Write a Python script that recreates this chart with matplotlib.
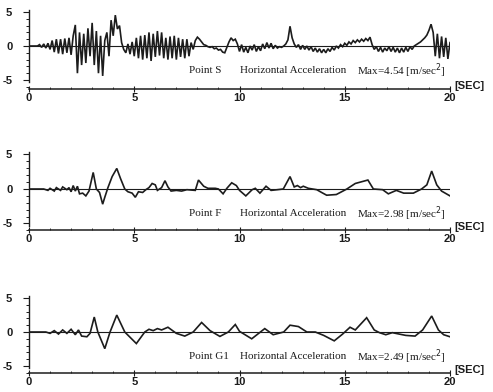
import numpy as np
import matplotlib
matplotlib.use("Agg")
import matplotlib.pyplot as plt
from matplotlib.ticker import MultipleLocator

# time base of the point S record [sec]
t_s = np.round(np.arange(0, 20.01, 0.1), 1)
# point S horizontal acceleration [m/sec^2], one value every 0.1 sec
acc_s = [
    0.0, 0.0, 0.0, 0.0, 0.0, 0.2, -0.2, 0.3, -0.3, 0.4,
    -0.5, 0.8, -0.9, 1.0, -1.1, 1.0, -1.2, 1.1, -1.0, 1.2,
    -1.3, 1.5, 3.1, -4.0, 2.0, -2.8, 1.8, -2.5, 2.6, -1.5,
    3.4, -2.8, 2.2, -4.0, 1.5, -4.4, 0.8, 2.0, -1.5, 3.8,
    1.5, 4.54, 2.5, 3.0, 0.5, -0.5, -1.0, 0.3, -1.2, 0.6,
    -1.5, 1.2, -1.8, 1.5, -2.0, 1.6, -1.8, 2.0, -2.2, 1.8,
    -1.6, 2.2, -1.4, 2.0, -1.8, 1.2, -2.0, 1.4, -1.8, 1.5,
    -2.0, 1.2, -1.6, 1.0, -1.8, 1.0, -1.5, 0.5, -0.5, 0.8,
    1.3, 1.0, 0.6, 0.2, 0.1, -0.1, -0.2, -0.1, -0.4, -0.3,
    -0.6, -0.5, -0.9, -1.0, -0.2, 0.6, 1.2, 0.8, 1.0, 0.3,
    -0.8, 0.2, -0.9, -0.2, -1.0, 0.0, -0.6, 0.2, -0.8, -0.1,
    -0.7, 0.3, -0.4, 0.5, -0.3, 0.4, -0.4, 0.1, -0.3, -0.1,
    -0.2, 0.0, 0.3, 0.9, 2.9, 1.2, 0.3, -0.2, 0.2, -0.5,
    0.1, -0.5, 0.0, -0.6, -0.1, -0.8, -0.3, -0.9, -0.4, -1.0,
    -0.5, -1.0, -0.4, -0.8, -0.2, -0.6, 0.0, -0.3, 0.2, -0.1,
    0.4, 0.1, 0.6, 0.3, 0.8, 0.5, 0.9, 0.6, 1.0, 0.7,
    1.1, 0.8, 1.3, 0.2, -0.5, -0.1, -0.8, -0.2, -0.9, -0.3,
    -0.7, -0.1, -0.8, -0.2, -0.9, -0.3, -1.0, -0.3, -0.9, -0.2,
    -0.8, -0.1, -0.5, 0.0, 0.2, 0.4, 0.6, 0.9, 1.2, 1.6,
    2.3, 3.2, 2.0, -1.5, 1.8, -1.8, 1.4, -1.6, 1.2, -1.9,
    0.5,
]

# point F
t_f = [0.0, 0.7, 0.9, 1.0, 1.2, 1.3, 1.5, 1.6, 1.8, 1.9, 2.0, 2.1, 2.2, 2.3,
       2.4, 2.55, 2.7, 2.85, 3.05, 3.2, 3.35, 3.5, 3.6, 3.75, 3.95, 4.17,
       4.35, 4.55, 4.7, 4.9, 5.05, 5.2, 5.4, 5.55, 5.7, 5.85, 6.0, 6.1, 6.3,
       6.46, 6.6, 6.75, 7.0, 7.25, 7.5, 7.9, 8.05, 8.3, 8.5, 8.85, 9.0, 9.22,
       9.4, 9.63, 9.85, 10.0, 10.3, 10.6, 10.75, 10.97, 11.26, 11.5, 11.8,
       12.08, 12.4, 12.6, 12.75, 12.9, 13.03, 13.27, 13.67, 13.9, 14.14,
       14.6, 15.1, 15.5, 16.1, 16.36, 16.8, 17.07, 17.45, 17.8, 18.26,
       18.65, 18.9, 19.13, 19.37, 19.6, 20.0]
acc_f = [0.0, 0.0, -0.2, 0.1, -0.3, 0.2, -0.2, 0.3, -0.1, 0.2, -0.4, 0.5,
         -0.3, 0.4, -0.7, -0.6, -1.0, -0.3, 2.4, 0.0, -0.5, -2.2, -1.2, 0.2,
         1.8, 2.98, 1.5, 0.0, -0.4, -0.6, -1.2, -0.4, -0.5, -0.1, 0.2, 0.8,
         0.6, -0.2, 0.2, 1.2, 0.3, -0.3, -0.2, -0.3, -0.1, -0.2, 1.3, 0.4,
         0.1, 0.1, 0.0, -0.7, 0.1, 0.9, 0.5, -0.2, -1.0, -0.1, 0.1, -0.6,
         0.4, -0.2, -0.1, 0.0, 1.8, 0.3, 0.5, 0.2, 0.4, 0.1, -0.1, -0.5,
         -0.9, -0.8, 0.0, 0.8, 1.3, 0.0, -0.1, -0.7, -0.2, -0.6, -0.6, 0.0,
         0.6, 2.6, 0.6, -0.3, -1.0]

# point G1
t_g = [0.0, 0.8, 1.0, 1.2, 1.4, 1.6, 1.8, 2.0, 2.2, 2.35, 2.5, 2.75, 2.9,
       3.1, 3.27, 3.6, 3.85, 4.17, 4.55, 5.1, 5.5, 5.7, 5.9, 6.1, 6.3, 6.6,
       7.0, 7.4, 7.8, 8.2, 8.6, 9.07, 9.47, 9.8, 10.0, 10.58, 11.2, 11.6,
       12.1, 12.4, 12.8, 13.2, 13.6, 14.0, 14.5, 14.9, 15.25, 15.5, 16.04,
       16.4, 16.65, 16.95, 17.26, 17.9, 18.34, 18.7, 19.13, 19.45, 19.7,
       20.0]
acc_g = [0.0, 0.0, -0.2, 0.2, -0.3, 0.3, -0.2, 0.4, -0.4, 0.3, -0.6, -0.7,
         -0.2, 2.2, 0.0, -2.45, 0.0, 2.49, 0.0, -1.7, 0.0, 0.4, 0.2, 0.5,
         0.3, 0.7, -0.2, -0.6, 0.0, 1.4, 0.2, -0.65, 0.0, 1.1, 0.1, -1.0,
         0.5, -0.4, 0.0, 1.0, 0.8, 0.0, 0.0, -0.5, -1.3, -0.3, 0.7, 0.3,
         2.1, 0.3, -0.1, -0.4, -0.1, -0.5, -0.6, 0.3, 2.35, 0.3, -0.4, -0.7]

points = ["S", "F", "G1"]
maxima = ["4.54", "2.98", "2.49"]
times = [t_s, t_f, t_g]
accs = [acc_s, acc_f, acc_g]
xticks = [0, 5, 10, 15, 20]
yticks = [-5, 0, 5]

W, H = 493, 392
ink = "#1c1c1c"
sans = ["Liberation Sans", "DejaVu Sans"]
serif = ["Liberation Serif", "DejaVu Serif"]

fig = plt.figure(figsize=(W / 100, H / 100), dpi=100)

# pixel layout of each panel: zero line row, pixels per unit, time axis row
rows = [(46, 6.8, 89), (189, 6.9, 230), (332, 6.8, 373)]
y_lo, y_hi = -6.8, 5.6
x0_px, x20_px = 29, 450

for i in range(3):
    zero, ppu, base = rows[i]
    top = zero - y_hi * ppu
    bot = zero - y_lo * ppu
    ax = fig.add_axes([x0_px / W, 1 - bot / H, (x20_px - x0_px) / W, (bot - top) / H])
    ax.set_xlim(0, 20)
    ax.set_ylim(y_lo, y_hi)
    ax.patch.set_alpha(0)

    ax.plot([0, 20], [0, 0], color=ink, lw=0.8)
    ax.plot(times[i], accs[i], color=ink, lw=1.2, solid_joinstyle="miter")

    for s in ["top", "right"]:
        ax.spines[s].set_visible(False)
    ax.spines["left"].set_bounds(-5.3, 5.3)
    ax.spines["left"].set_color(ink)
    ax.spines["left"].set_linewidth(1.0)
    ax.spines["bottom"].set_position(("data", -(base - zero) / ppu))
    ax.spines["bottom"].set_bounds(0, 20)
    ax.spines["bottom"].set_color(ink)
    ax.spines["bottom"].set_linewidth(1.1)

    ax.set_yticks(yticks)
    ax.set_yticklabels([str(v) for v in yticks])
    ax.yaxis.set_minor_locator(MultipleLocator(1))
    ax.tick_params(axis="y", which="major", length=4, width=0.8, pad=8, color=ink)
    ax.tick_params(axis="y", which="minor", length=2.5, width=0.7, color=ink)
    ax.set_xticks(xticks)
    ax.set_xticklabels([str(v) for v in xticks])
    ax.xaxis.set_minor_locator(MultipleLocator(1))
    ax.tick_params(axis="x", which="major", direction="inout", length=5, width=0.8,
                   pad=0.5, color=ink)
    ax.tick_params(axis="x", which="minor", direction="in", length=1.5, width=0.6,
                   color=ink)
    for lab in ax.get_xticklabels() + ax.get_yticklabels():
        lab.set_family(sans)
        lab.set_fontsize(8)
        lab.set_fontweight("bold")
        lab.set_color(ink)

    label_y = -3.6
    ax.text(7.6, label_y, "Point " + points[i], family=serif, fontsize=8,
            color=ink, va="center")
    ax.text(10.0, label_y, "Horizontal Acceleration", family=serif, fontsize=8,
            color=ink, va="center")
    ax.text(15.6, label_y, "Max=" + maxima[i] + " [m/sec$^2$]", family=serif,
            fontsize=8, color=ink, va="center")
    ax.text(20.2, -(base - zero) / ppu + 0.4, "[SEC]", family=sans, fontsize=8,
            fontweight="bold", color=ink, va="center", ha="left", clip_on=False)

fig.savefig("out.png", dpi=100, facecolor="white")
